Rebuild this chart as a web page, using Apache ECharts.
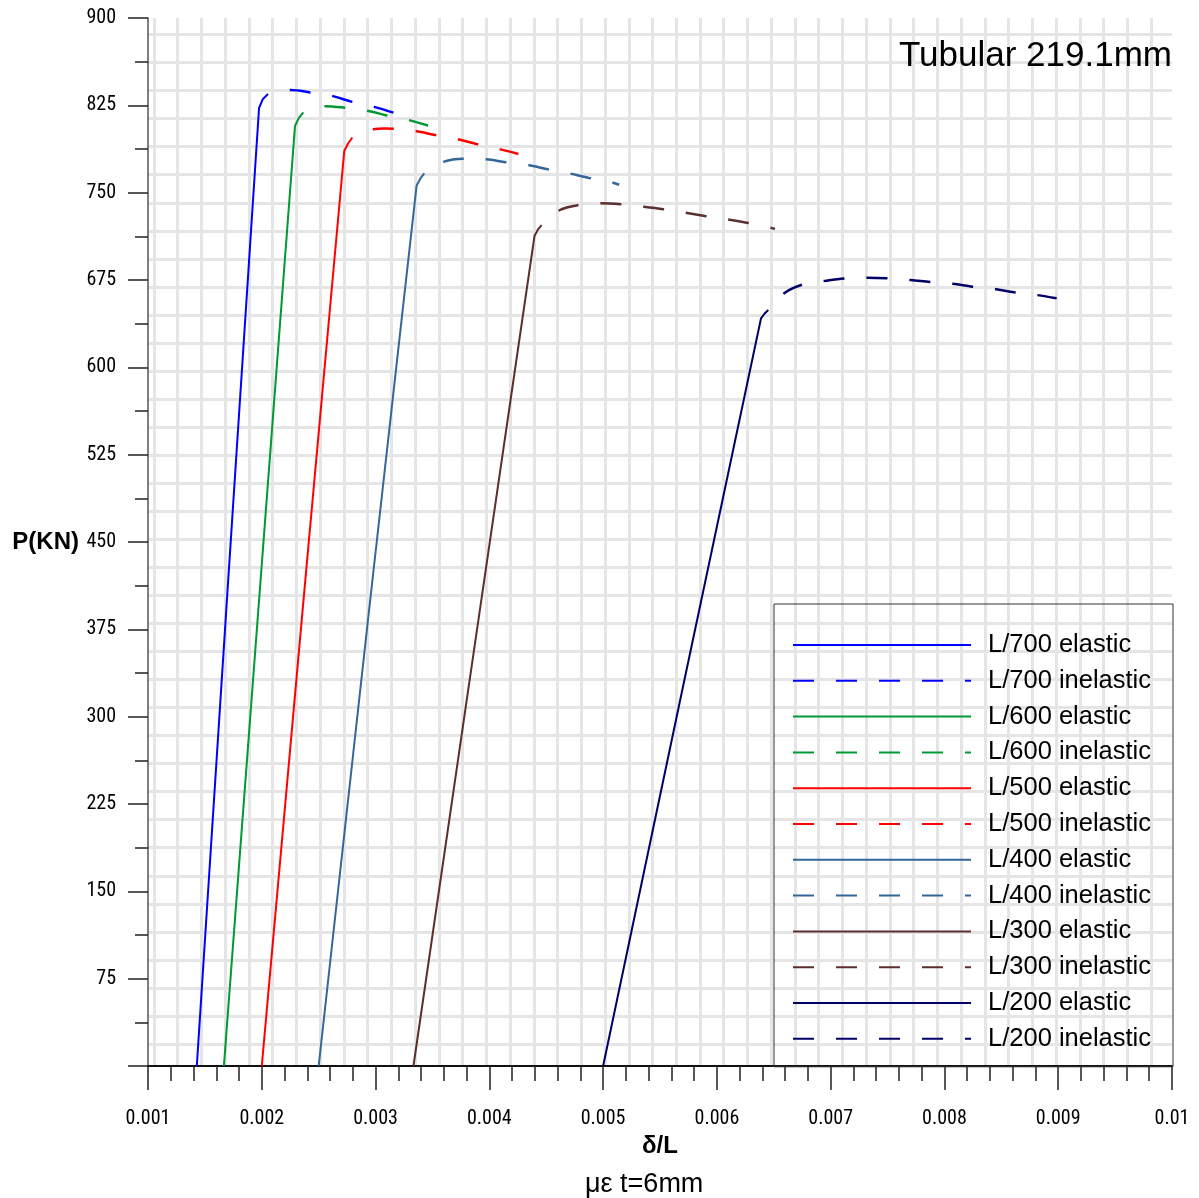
<!DOCTYPE html>
<html>
<head>
<meta charset="utf-8">
<script src="https://cdn.jsdelivr.net/npm/echarts@6/dist/echarts.min.js"></script>
<style>
html,body{margin:0;padding:0;background:#fff;}
#chart{width:1199px;height:1198px;}
</style>
</head>
<body>
<div id="chart"></div>
<script>
// ---- data (δ/L, P in kN) ----
const xTicks = [0.001,0.002,0.003,0.004,0.005,0.006,0.007,0.008,0.009,0.01];
const yTicks = [75,150,225,300,375,450,525,600,675,750,825,900];

const L700_elastic   = [[0.001429,0],[0.001700,410],[0.001976,822.7],[0.002010,830.5],[0.002055,834.7]];
const L700_inelastic = [[0.002055,834.7],[0.002257,838.1],[0.002424,836.1],[0.002626,832.9],[0.002793,828.0],[0.002986,823.7],[0.003157,818.7]];

const L600_elastic   = [[0.001667,0],[0.001980,405],[0.002292,807.3],[0.002325,814.0],[0.002365,818.9]];
const L600_inelastic = [[0.002365,818.9],[0.002556,824.3],[0.002727,823.0],[0.002929,820.4],[0.003098,816.3],[0.003290,812.4],[0.003461,807.7]];

const L500_elastic   = [[0.002000,0],[0.002362,395],[0.002725,785.8],[0.002757,792.0],[0.002796,797.4]];
const L500_inelastic = [[0.002796,797.4],[0.002981,804.4],[0.003083,805.0],[0.003157,804.9],[0.003350,802.9],[0.003526,799.5],[0.003716,796.1],[0.003887,791.8],[0.004085,787.5],[0.004255,783.2]];

const L400_elastic   = [[0.002500,0],[0.002930,380],[0.003361,756.2],[0.003393,762.0],[0.003428,766.6]];
const L400_inelastic = [[0.003428,766.6],[0.003602,776.6],[0.003771,779.2],[0.003971,778.7],[0.004144,776.1],[0.004337,773.8],[0.004512,770.1],[0.004702,766.6],[0.004878,762.6],[0.005075,758.9],[0.005141,756.8]];

const L300_elastic   = [[0.003333,0],[0.003865,357],[0.004397,712.8],[0.004425,718.0],[0.004459,722.2]];
const L300_inelastic = [[0.004459,722.2],[0.004621,735.1],[0.004788,739.4],[0.004973,740.9],[0.005158,740.0],[0.005353,738.0],[0.005529,735.8],[0.005895,730.0],[0.006273,724.0],[0.006511,718.9]];

const L200_elastic   = [[0.005000,0],[0.005694,322],[0.006388,642.1],[0.006418,646.0],[0.006452,649.2]];
const L200_inelastic = [[0.006452,649.2],[0.006598,664.1],[0.006759,671.3],[0.006959,674.4],[0.007132,676.4],[0.007330,677.0],[0.007506,676.4],[0.007703,675.0],[0.007875,673.3],[0.008072,671.8],[0.008244,669.3],[0.008441,667.3],[0.008614,664.4],[0.008811,662.1],[0.008986,659.3]];

const seriesNames = ['L/700','L/600','L/500','L/400','L/300','L/200'];
const seriesColors = ['#0000ff','#009933','#ff0000','#336699','#5c2e2e','#000066'];
const elasticData = [L700_elastic,L600_elastic,L500_elastic,L400_elastic,L300_elastic,L200_elastic];
const inelasticData = [L700_inelastic,L600_inelastic,L500_inelastic,L400_inelastic,L300_inelastic,L200_inelastic];

// ---- chart ----
const FONT = '"Liberation Sans", Arial, sans-serif';
const NARROW = '"Liberation Sans Narrow", "Arial Narrow", "Roboto Condensed", sans-serif';
const chart = echarts.init(document.getElementById('chart'), null, {renderer:'canvas'});

const series = [];
const legendData = [];
seriesNames.forEach((n,i)=>{
  series.push({
    name: n+' elastic', type:'line', xAxisIndex:0, yAxisIndex:0,
    data: elasticData[i], symbol:'none', smooth:false,
    lineStyle:{color:seriesColors[i], width:2}, itemStyle:{color:seriesColors[i]}, z:3
  });
  series.push({
    name: n+' inelastic', type:'line', xAxisIndex:0, yAxisIndex:0,
    data: inelasticData[i], symbol:'none', smooth:0.35,
    lineStyle:{color:seriesColors[i], width:2.5, type:[21,22], dashOffset:21}, itemStyle:{color:seriesColors[i]}, z:3
  });
  legendData.push({name:n+' elastic'});
  legendData.push({name:n+' inelastic', lineStyle:{dashOffset:0}});
});

const option = {
  animation:false,
  backgroundColor:'#ffffff',
  grid:[
    {left:148, right:27, top:18, bottom:132},
    {left:154, width:997, top:18, height:1048},
    {left:148, width:1024, top:34.5, height:1009.5}
  ],
  xAxis:[
    {
      type:'value', gridIndex:0, min:0.001, max:0.01, interval:0.001,
      name:'δ/L', nameLocation:'middle', nameGap:68,
      nameTextStyle:{fontFamily:FONT, fontSize:24, fontWeight:'bold', color:'#000'},
      axisLine:{show:true, onZero:false, lineStyle:{color:'#111', width:2}},
      axisTick:{show:true, length:24, lineStyle:{color:'#222', width:1.5}},
      minorTick:{show:true, splitNumber:5, length:15, lineStyle:{color:'#222', width:1.5}},
      splitLine:{show:false}, minorSplitLine:{show:false},
      axisLabel:{margin:43, fontFamily:NARROW, fontSize:20, color:'#000',
        formatter:v=>String(parseFloat(v.toFixed(4)))}
    },
    {
      type:'value', gridIndex:1, min:0, max:42, interval:1,
      axisLine:{show:false}, axisTick:{show:false}, axisLabel:{show:false},
      splitLine:{show:true, lineStyle:{color:'#e5e5e5', width:3}}
    },
    {
      type:'value', gridIndex:2, min:0, max:1, show:false,
      splitLine:{show:false}
    }
  ],
  yAxis:[
    {
      type:'value', gridIndex:0, min:0, max:900, interval:75,
      name:'P(KN)', nameLocation:'middle', nameGap:69, nameRotate:0,
      nameTextStyle:{fontFamily:FONT, fontSize:24, fontWeight:'bold', color:'#000'},
      axisLine:{show:true, onZero:false, lineStyle:{color:'#555', width:1.5}},
      axisTick:{show:true, length:20, lineStyle:{color:'#222', width:1.5}},
      minorTick:{show:true, splitNumber:2, length:13, lineStyle:{color:'#222', width:1.5}},
      splitLine:{show:false}, minorSplitLine:{show:false},
      axisLabel:{margin:32, showMinLabel:false, fontFamily:NARROW, fontSize:20, color:'#000'}
    },
    {
      type:'value', gridIndex:1, min:0, max:1, show:false, splitLine:{show:false}
    },
    {
      type:'value', gridIndex:2, min:0, max:36, interval:1,
      axisLine:{show:false}, axisTick:{show:false}, axisLabel:{show:false},
      splitLine:{show:true, lineStyle:{color:'#e5e5e5', width:3}}
    }
  ],
  legend:{
    orient:'vertical', left:774, top:604,
    padding:[28,0,15,18],
    itemWidth:178, itemHeight:14, itemGap:9.8,
    borderColor:'#333', borderWidth:1, backgroundColor:'transparent',
    itemStyle:{opacity:0},
    textStyle:{fontFamily:FONT, fontSize:25.5, color:'#000', lineHeight:24, width:185, padding:[0,0,0,12]},
    data:legendData
  },
  graphic:[
    {type:'text', right:27, top:39, z:100, style:{text:'Tubular 219.1mm', font:'35px '+FONT, fill:'#000', textAlign:'right'}},
    {type:'text', left:585, top:1171, z:100, style:{text:'με t=6mm', font:'27px '+FONT, fill:'#000'}}
  ],
  series:series
};
chart.setOption(option);
</script>
</body>
</html>
